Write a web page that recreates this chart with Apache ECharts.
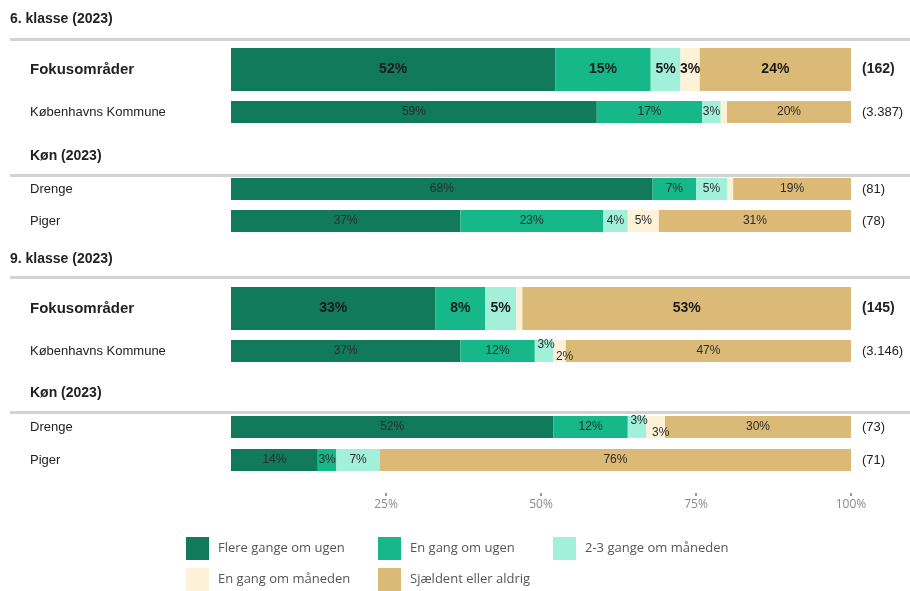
<!DOCTYPE html>
<html>
<head>
<meta charset="utf-8">
<script src="https://cdn.jsdelivr.net/npm/echarts@6/dist/echarts.min.js"></script>
<style>html,body{margin:0;padding:0;background:#fff}#c{width:910px;height:591px}</style>
</head>
<body>
<div id="c"></div>
<script>
// ---- data ----
const categories = ['Flere gange om ugen', 'En gang om ugen', '2-3 gange om måneden', 'En gang om måneden', 'Sjældent eller aldrig'];
const rowLabels = ['Fokusområder', 'Københavns Kommune', 'Drenge', 'Piger', 'Fokusområder', 'Københavns Kommune', 'Drenge', 'Piger'];
const rowCounts = ['(162)', '(3.387)', '(81)', '(78)', '(145)', '(3.146)', '(73)', '(71)'];
const flereGangeOmUgen = [52.3, 59, 68, 37, 33, 37, 52, 14];
const enGangOmUgen = [15.4, 17, 7, 23, 8, 12, 12, 3];
const toTreGangeOmMaaneden = [4.8, 3, 5, 4, 5, 3, 3, 7];
const enGangOmMaaneden = [3.1, 1, 1, 5, 1, 2, 3, 0];
const sjaeldentEllerAldrig = [24.4, 20, 19, 31, 53, 47, 30, 76];
const sectionTitles = ['6. klasse (2023)', 'Køn (2023)', '9. klasse (2023)', 'Køn (2023)'];
const axisTickValues = [25, 50, 75, 100];

const seriesValues = [flereGangeOmUgen, enGangOmUgen, toTreGangeOmMaaneden, enGangOmMaaneden, sjaeldentEllerAldrig];
const colors = ['#117a5b', '#16b88a', '#a2f0da', '#fdf2d8', '#dbb977'];
const boldRow = [true, false, false, false, true, false, false, false];

// ---- layout ----
const rowTops = [48, 101, 178, 210, 287, 340, 416, 449];
const rowHeights = rowTops.map((t, i) => boldRow[i] ? 43 : 22);
const sectionLayout = [
  {x: 10, y: 12, line: 38},
  {x: 30, y: 149, line: 174},
  {x: 10, y: 252, line: 276},
  {x: 30, y: 386, line: 411}
];
const FONT = '"Liberation Sans", Arial, sans-serif';
const LFONT = '"Open Sans", "Noto Sans", sans-serif';

const grids = [], xAxes = [], yAxes = [], series = [];
rowLabels.forEach((lab, r) => {
  grids.push({left: 231, right: 59, top: rowTops[r], height: rowHeights[r]});
  const last = r === rowLabels.length - 1;
  xAxes.push({
    type: 'value', gridIndex: r, min: 0, max: 100,
    show: last,
    offset: 22,
    axisLine: {show: false},
    splitLine: {show: false},
    axisTick: {show: true, length: 3, inside: false, lineStyle: {color: '#777', width: 1.5}, customValues: axisTickValues},
    axisLabel: {show: true, margin: 6, color: '#8a8a8a', fontFamily: LFONT, fontSize: 12,
      customValues: axisTickValues, formatter: v => v + '%'}
  });
  yAxes.push({
    type: 'category', gridIndex: r, data: [lab],
    axisLine: {show: false}, axisTick: {show: false},
    axisLabel: {align: 'left', margin: 201, color: '#222', fontFamily: FONT,
      fontSize: boldRow[r] ? 15 : 13, fontWeight: boldRow[r] ? 'bold' : 'normal'}
  });
  yAxes.push({
    type: 'category', gridIndex: r, position: 'right', data: [rowCounts[r]],
    axisLine: {show: false}, axisTick: {show: false},
    axisLabel: {align: 'left', margin: 11, color: '#222', fontFamily: FONT,
      fontSize: boldRow[r] ? 14 : 13, fontWeight: boldRow[r] ? 'bold' : 'normal'}
  });
  categories.forEach((cat, s) => {
    const v = seriesValues[s][r];
    const rv = Math.round(v);
    let offset = [0, 0];
    const next = s < 4 ? Math.round(seriesValues[s + 1][r]) : 99;
    const prev = s > 0 ? Math.round(seriesValues[s - 1][r]) : 99;
    if (rv >= 2 && rv <= 3 && next >= 2 && next <= 3) offset = [2, -6];
    else if (rv >= 2 && rv <= 3 && prev >= 2 && prev <= 3) offset = [5, 6];
    series.push({
      type: 'bar', name: cat, stack: 'row' + r,
      xAxisIndex: r, yAxisIndex: r * 2,
      barWidth: '100%',
      itemStyle: {color: colors[s]},
      data: [v],
      silent: true,
      label: {
        show: rv >= 2, position: 'inside', formatter: p => Math.round(p.value) + '%', offset: offset,
        color: boldRow[r] ? '#1b1b1b' : '#2c2c2c',
        fontFamily: FONT, fontSize: boldRow[r] ? 14 : 12,
        fontWeight: boldRow[r] ? 'bold' : 'normal'
      }
    });
  });
});

const titles = sectionTitles.map((t, i) => ({
  text: t, left: sectionLayout[i].x, top: sectionLayout[i].y, padding: 0,
  textStyle: {fontFamily: FONT, fontSize: 14, fontWeight: 'bold', color: '#222'}
}));

const graphics = sectionLayout.map(s => ({
  type: 'rect', shape: {x: 10, y: s.line, width: 900, height: 3},
  style: {fill: '#d2d2d2'}, silent: true
}));

const legendPos = [[186, 537], [378, 537], [553, 537], [186, 568], [378, 568]];
const legends = categories.map((c, i) => ({
  data: [c], left: legendPos[i][0], top: legendPos[i][1], padding: 0,
  icon: 'rect', itemWidth: 23, itemHeight: 23, selectedMode: false,
  textStyle: {fontFamily: LFONT, fontSize: 13, color: '#555', padding: [0, 0, 0, 4]}
}));

const chart = echarts.init(document.getElementById('c'), null, {renderer: 'canvas'});
chart.setOption({
  animation: false,
  title: titles,
  legend: legends,
  grid: grids,
  xAxis: xAxes,
  yAxis: yAxes,
  series: series,
  graphic: graphics
});
</script>
</body>
</html>
